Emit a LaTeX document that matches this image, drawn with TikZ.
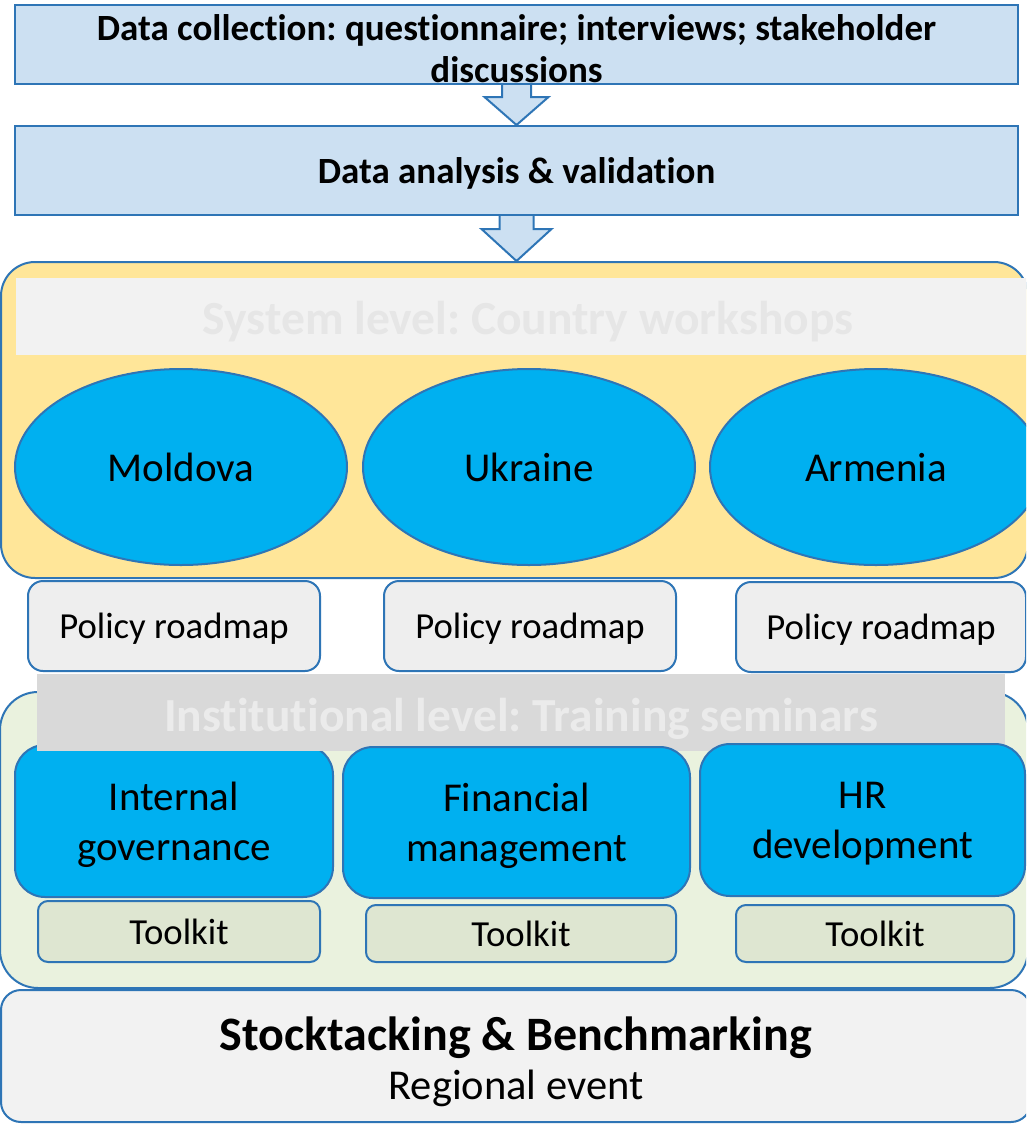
\documentclass[tikz,border=0pt]{standalone}
\usepackage{fontspec}
\setmainfont{Carlito}[Ligatures={NoCommon}]
\usetikzlibrary{shapes.geometric,calc}
\definecolor{bord}{HTML}{2E75B6}
\definecolor{lblue}{HTML}{CCE0F2}
\definecolor{cyanb}{HTML}{00B0F0}
\definecolor{yel}{HTML}{FFE699}
\definecolor{bandA}{HTML}{F2F2F2}
\definecolor{bandB}{HTML}{D9D9D9}
\definecolor{bandAtext}{HTML}{E6E6E6}
\definecolor{bandBtext}{HTML}{EBEBEB}
\definecolor{grn}{HTML}{EAF2DE}
\definecolor{toolk}{HTML}{DEE6D1}
\definecolor{roadm}{HTML}{EEEEEE}
\definecolor{botc}{HTML}{F2F2F2}
\newcommand{\fsz}[2]{\fontsize{#1}{#2}\selectfont}
\frenchspacing
\tikzset{
  base/.style={draw=bord, line width=2pt, inner sep=0pt, align=center, text depth=0pt},
  topbox/.style={base, fill=lblue, rectangle, font=\fsz{37}{44}\bfseries},
  frame/.style={base, rounded corners=#1},
  bandbox/.style={inner sep=0pt, align=center, text depth=0pt, font=\fsz{47.5}{55}\bfseries},
  country/.style={base, ellipse, fill=cyanb, font=\fsz{41}{50}},
  roadbox/.style={base, rounded corners=15pt, fill=roadm, font=\fsz{36.7}{44}},
  topic/.style={base, rounded corners=30pt, fill=cyanb, font=\fsz{41}{50}},
  toolbox/.style={base, rounded corners=10pt, fill=toolk, font=\fsz{36.7}{44}},
  blockarrow/.style={fill=lblue},
  blockedge/.style={draw=bord, line width=2pt, line join=miter},
}
\begin{document}
\begin{tikzpicture}[x=1pt,y=-1pt]
\useasboundingbox (0,0) rectangle (1026,1125);
\clip (0,0) rectangle (1026,1125);
\fill[white] (0,0) rectangle (1026,1125);

% top process boxes
\node[topbox, minimum width=1003pt, minimum height=79pt, font=\fsz{37}{42}\bfseries] (collect) at (516.5,44.5)
  {\rule{0pt}{34pt}Data collection: questionnaire; interviews; stakeholder\\discussions};
\node[topbox, minimum width=1003pt, minimum height=89pt] (analysis) at (516.5,170.5)
  {Data analysis \& validation};

% system level frame
\node[frame=34pt, fill=yel, minimum width=1027pt, minimum height=316pt] (system) at (514.5,420) {};
\node[bandbox, fill=bandA, minimum width=1014pt, minimum height=77pt] (sysband) at (523,316.5) {};
\node[bandbox, text=bandAtext] (systitle) at (528,318) {System level: Country workshops};

% block arrows
\coordinate (a1s) at (collect.south);
\coordinate (a1t) at (analysis.north);
\path[blockarrow] ($(a1s)+(-14.5,0)$) -- ($(a1s)+(-14.5,12)$) -- ($(a1s)+(-32,12)$) -- (a1t)
  -- ($(a1s)+(32,12)$) -- ($(a1s)+(14.5,12)$) -- ($(a1s)+(14.5,0)$) -- cycle;
\draw[blockedge] ($(a1s)+(-14.5,0)$) -- ($(a1s)+(-14.5,12)$) -- ($(a1s)+(-32,12)$) -- (a1t)
  -- ($(a1s)+(32,12)$) -- ($(a1s)+(14.5,12)$) -- ($(a1s)+(14.5,0)$);

\coordinate (a2s) at (analysis.south);
\coordinate (a2t) at (system.north -| analysis.south);
\path[blockarrow] ($(a2s)+(-17,0)$) -- ($(a2s)+(-17,13)$) -- ($(a2s)+(-35,13)$) -- (a2t)
  -- ($(a2s)+(35,13)$) -- ($(a2s)+(17,13)$) -- ($(a2s)+(17,0)$) -- cycle;
\draw[blockedge] ($(a2s)+(-17,0)$) -- ($(a2s)+(-17,13)$) -- ($(a2s)+(-35,13)$) -- (a2t)
  -- ($(a2s)+(35,13)$) -- ($(a2s)+(17,13)$) -- ($(a2s)+(17,0)$);

% countries
\node[country, minimum width=332pt, minimum height=196pt] (moldova) at (181,467) {Moldova};
\node[country, minimum width=332pt, minimum height=196pt] (ukraine) at (529,467) {Ukraine};
\node[country, minimum width=332pt, minimum height=196pt] (armenia) at (876,467) {Armenia};

% roadmaps
\node[roadbox, minimum width=292pt, minimum height=90pt] (road1) at (174,626) {Policy roadmap};
\node[roadbox, minimum width=292pt, minimum height=90pt] (road2) at (530,626) {Policy roadmap};
\node[roadbox, minimum width=290pt, minimum height=90pt] (road3) at (881,627) {Policy roadmap};

% institutional frame
\node[frame=38pt, fill=grn, minimum width=1028pt, minimum height=296pt] (inst) at (514,840) {};
\node[topic, minimum width=318pt, minimum height=152pt] (gov) at (174,821) {Internal\\governance};
\node[bandbox, fill=bandB, minimum width=968pt, minimum height=77pt] (instband) at (521,712.5) {};
\node[bandbox, text=bandBtext] (insttitle) at (521,715) {Institutional level: Training seminars};
\node[topic, minimum width=347pt, minimum height=151pt] (fin) at (516.5,822.5) {Financial\\management};
\node[topic, minimum width=325pt, minimum height=152pt] (hr) at (862.5,820) {HR\\development};

% toolkits
\node[toolbox, minimum width=282pt, minimum height=61pt] (tool1) at (179,931.5) {Toolkit};
\node[toolbox, minimum width=310pt, minimum height=57pt] (tool2) at (521,933.5) {Toolkit};
\node[toolbox, minimum width=278pt, minimum height=57pt] (tool3) at (875,933.5) {Toolkit};

% regional event
\node[frame=20pt, fill=botc, minimum width=1030pt, minimum height=132pt] (region) at (516,1056)
  {{\fsz{48}{56}\bfseries\rule{0pt}{38pt}Stocktacking \& Benchmarking}\\[10pt]{\fsz{42.5}{48}Regional event}};
\end{tikzpicture}
\end{document}
